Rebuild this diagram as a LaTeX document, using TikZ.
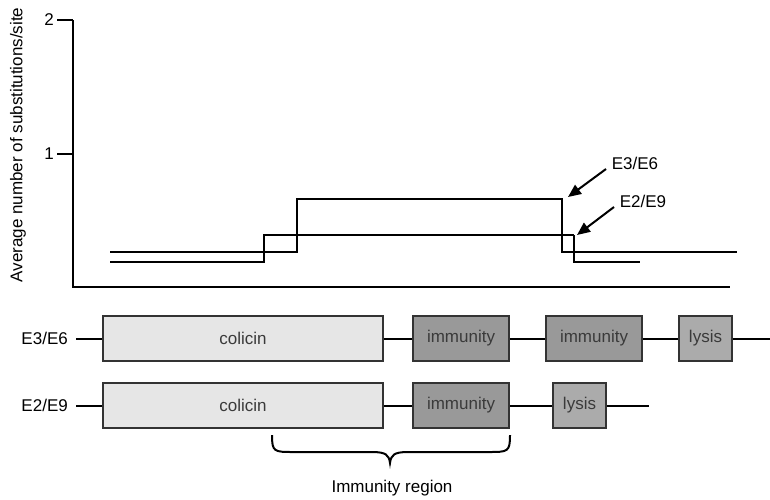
\documentclass[tikz,border=0pt]{standalone}
\usepackage{fontspec}
\setmainfont{Liberation Sans}
\usepackage{xcolor}
\usepackage{tikz}
\usetikzlibrary{arrows.meta}
\definecolor{colicin fill}{HTML}{E6E6E6}
\definecolor{immunity fill}{HTML}{999999}
\definecolor{lysis fill}{HTML}{ABABAB}
\definecolor{box line}{HTML}{333333}
\definecolor{gene text}{HTML}{3A3A3A}
\tikzset{
big text/.style = { font = \fontsize{17}{20}\selectfont },
gene/.style = { rectangle, draw = box line, line width = 1.5pt, minimum height = 45pt, inner sep = 0pt, text = gene text, big text },
colicin gene/.style = { gene, fill = colicin fill, minimum width = 280pt },
immunity gene/.style = { gene, fill = immunity fill, minimum width = 96pt },
lysis gene/.style = { gene, fill = lysis fill, minimum width = 53pt },
strain label/.style = { anchor = east, inner sep = 0pt, inner xsep = 8pt, big text },
backbone/.style = { draw = black, line width = 2pt },
step line/.style = { draw = black, line width = 2.2pt },
step tail/.style = { draw = black, line width = 1.5pt },
pointer/.style = { draw = black, line width = 2pt, -{Triangle[length = 13pt, width = 11pt]} },
}

\begin{document}
\begin{tikzpicture}[x = 1pt, y = -1pt]
    \useasboundingbox (0, 0) rectangle (770, 499);
    % substitution plot
    \node[big text, rotate = 90] (ylabel) at (18, 145) {Average number of substitutions/site};
    \draw[line width = 2pt] (73, 20) -- (73, 287) -- (730, 287);
    \draw[line width = 2pt] (57, 20) -- (73, 20);
    \draw[line width = 2pt] (57, 154) -- (73, 154);
    \node[big text, anchor = east, inner sep = 1pt] (tick two) at (55, 20) {2};
    \node[big text, anchor = east, inner sep = 1pt] (tick one) at (55, 154) {1};
    \draw[step line] (110, 252) -- (297, 252) -- (297, 199) -- (562, 199) -- (562, 198);
    \draw[step tail] (562, 199) -- (562, 252) -- (737, 252);
    \draw[step line] (110, 262) -- (264, 262) -- (264, 235) -- (574, 235);
    \draw[step tail] (574, 235) -- (574, 262) -- (640, 262);
    \node[big text] (e36 note) at (635, 163) {E3/E6};
    \node[big text] (e29 note) at (643, 201) {E2/E9};
    \coordinate (e36 tail) at (606, 169);
    \coordinate (e36 tip) at (568, 197);
    \coordinate (e29 tail) at (614, 207);
    \coordinate (e29 tip) at (577, 235);
    \draw[pointer] (e36 tail) -- (e36 tip);
    \draw[pointer] (e29 tail) -- (e29 tip);
    % gene maps
    \node[strain label] (e36) at (76, 338.5) {E3/E6};
    \node[colicin gene] (e36 colicin) at (243, 338.5) {colicin};
    \node[immunity gene] (e36 imm a) at (461, 338.5) {immunity};
    \node[immunity gene] (e36 imm b) at (594, 338.5) {immunity};
    \node[lysis gene] (e36 lysis) at (705.5, 338.5) {lysis};
    \coordinate (e36 end) at (770, 338.5);
    \draw[backbone] (e36.east) -- (e36 colicin.west);
    \draw[backbone] (e36 colicin.east) -- (e36 imm a.west);
    \draw[backbone] (e36 imm a.east) -- (e36 imm b.west);
    \draw[backbone] (e36 imm b.east) -- (e36 lysis.west);
    \draw[backbone] (e36 lysis.east) -- (e36 end);
    \node[strain label] (e29) at (76, 405.5) {E2/E9};
    \node[colicin gene] (e29 colicin) at (243, 405.5) {colicin};
    \node[immunity gene] (e29 imm) at (461, 405.5) {immunity};
    \node[lysis gene] (e29 lysis) at (579.5, 405.5) {lysis};
    \coordinate (e29 end) at (649, 405.5);
    \draw[backbone] (e29.east) -- (e29 colicin.west);
    \draw[backbone] (e29 colicin.east) -- (e29 imm.west);
    \draw[backbone] (e29 imm.east) -- (e29 lysis.west);
    \draw[backbone] (e29 lysis.east) -- (e29 end);
    \draw[line width = 2pt] (272, 435) .. controls (272, 452) and (274, 452) .. (294, 452) -- (372, 452) .. controls (386, 452) and (389, 455) .. (390, 463) .. controls (391, 455) and (394, 452) .. (408, 452) -- (488, 452) .. controls (508, 452) and (510, 452) .. (510, 435);
    \node[big text] (region) at (392, 488) {Immunity region};
\end{tikzpicture}
\end{document}
